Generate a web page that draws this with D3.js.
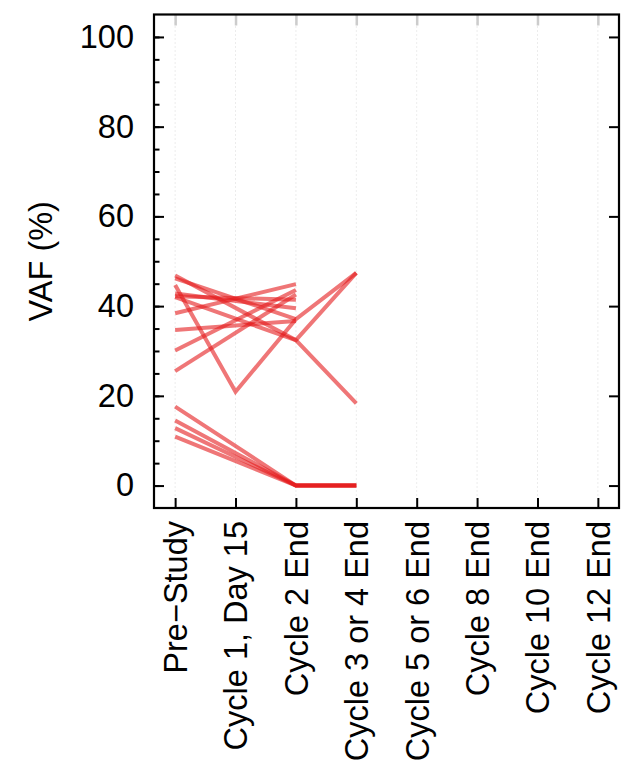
<!DOCTYPE html>
<html>
<head>
<meta charset="utf-8">
<script src="https://cdn.jsdelivr.net/npm/d3@7"></script>
<style>
  html, body { margin: 0; padding: 0; background: #fff; }
  svg { display: block; }
  text { font-family: "Liberation Sans", Arial, Helvetica, sans-serif; fill: #000; }
</style>
</head>
<body>
<svg id="chart" width="623" height="781"></svg>
<script>
// Visits along the x axis
const visits = ["Pre\u2212Study", "Cycle 1, Day 15", "Cycle 2 End", "Cycle 3 or 4 End",
                "Cycle 5 or 6 End", "Cycle 8 End", "Cycle 10 End", "Cycle 12 End"];

// VAF (%) per patient at each visit (null = not sampled)
const preStudy     = [46.8, 46.2, 44.7, 42.8, 42.2, 42.0, 38.4, 34.7, 30.1, 25.5, 17.6, 14.5, 12.8, 10.9];
const cycle1Day15  = [null, null, 20.9, null, null, null, null, null, null, null, null, null, null, null];
const cycle2End    = [32.4, 37.1, 37.1, 39.5, 41.4, 32.4, 44.9, 36.7, 43.6, 42.6, 0, 0, 0, 0];
const cycle3or4End = [18.3, null, 47.4, null, null, 47.4, null, null, null, null, 0, 0, 0, 0];

// Axis ticks
const yMajorTicks = [0, 20, 40, 60, 80, 100];
const yMinorTicks = d3.range(0, 101, 5);

const fontSize = 32.5;

const svg = d3.select("#chart");
const plot = { left: 154, right: 619, top: 14.5, bottom: 508 };

const x = d3.scalePoint().domain(visits).range([plot.left, plot.right]).padding(0.35);
const y = d3.scaleLinear().domain([-5, 105]).range([plot.bottom, plot.top]);

// Dotted vertical guides at each visit
svg.append("g").selectAll("line").data(visits).join("line")
  .attr("x1", d => x(d)).attr("x2", d => x(d))
  .attr("y1", plot.top).attr("y2", plot.bottom)
  .attr("stroke", "#d9d9d9").attr("stroke-width", 1)
  .attr("stroke-dasharray", "1,3");

// Top ticks (grey, inward)
svg.append("g").attr("transform", `translate(0,${plot.top})`)
  .call(d3.axisTop(x).tickSize(-11).tickFormat(""))
  .call(g => g.select(".domain").remove())
  .call(g => g.selectAll(".tick line").attr("stroke", "#cccccc").attr("stroke-width", 2.5));

// Bottom axis with rotated visit labels
svg.append("g").attr("transform", `translate(0,${plot.bottom})`)
  .call(d3.axisBottom(x).tickSize(-10).tickPadding(0))
  .call(g => g.select(".domain").remove())
  .call(g => g.selectAll(".tick line").attr("stroke", "#000").attr("stroke-width", 2))
  .call(g => g.selectAll(".tick text")
    .attr("font-size", fontSize)
    .attr("text-anchor", "end")
    .attr("transform", "rotate(-90)")
    .attr("x", -13)
    .attr("y", 0)
    .attr("dy", "0.35em"));

// Left axis: minor ticks, then major ticks with labels
svg.append("g").attr("transform", `translate(${plot.left},0)`)
  .call(d3.axisLeft(y).tickValues(yMinorTicks).tickSize(-5.5).tickFormat(""))
  .call(g => g.select(".domain").remove())
  .call(g => g.selectAll(".tick line").attr("stroke", "#000").attr("stroke-width", 2));

svg.append("g").attr("transform", `translate(${plot.left},0)`)
  .call(d3.axisLeft(y).tickValues(yMajorTicks).tickSize(-10).tickPadding(20))
  .call(g => g.select(".domain").remove())
  .call(g => g.selectAll(".tick line").attr("stroke", "#000").attr("stroke-width", 2))
  .call(g => g.selectAll(".tick text").attr("font-size", fontSize));

// Right axis: major ticks only
svg.append("g").attr("transform", `translate(${plot.right},0)`)
  .call(d3.axisRight(y).tickValues(yMajorTicks).tickSize(-10).tickFormat(""))
  .call(g => g.select(".domain").remove())
  .call(g => g.selectAll(".tick line").attr("stroke", "#000").attr("stroke-width", 2));

// Plot frame
svg.append("rect")
  .attr("x", plot.left).attr("y", plot.top)
  .attr("width", plot.right - plot.left).attr("height", plot.bottom - plot.top)
  .attr("fill", "none").attr("stroke", "#000").attr("stroke-width", 2.2);

// Y axis title
svg.append("text")
  .attr("transform", `translate(41,${(y(105) + y(-5)) / 2}) rotate(-90)`)
  .attr("text-anchor", "middle")
  .attr("dy", "0.35em")
  .attr("font-size", fontSize)
  .text("VAF (%)");

// One trajectory per patient, skipping visits without a sample
const columns = [preStudy, cycle1Day15, cycle2End, cycle3or4End];
const patients = preStudy.map((_, i) =>
  columns.map((col, j) => ({ visit: visits[j], v: col[i] })).filter(p => p.v != null));

const line = d3.line().x(p => x(p.visit)).y(p => y(p.v));

svg.append("g").selectAll("path").data(patients).join("path")
  .attr("d", line)
  .attr("fill", "none")
  .attr("stroke", "#e41a1c")
  .attr("stroke-opacity", 0.6)
  .attr("stroke-width", 4)
  .attr("stroke-linejoin", "miter")
  .attr("stroke-linecap", "butt");
</script>
</body>
</html>
